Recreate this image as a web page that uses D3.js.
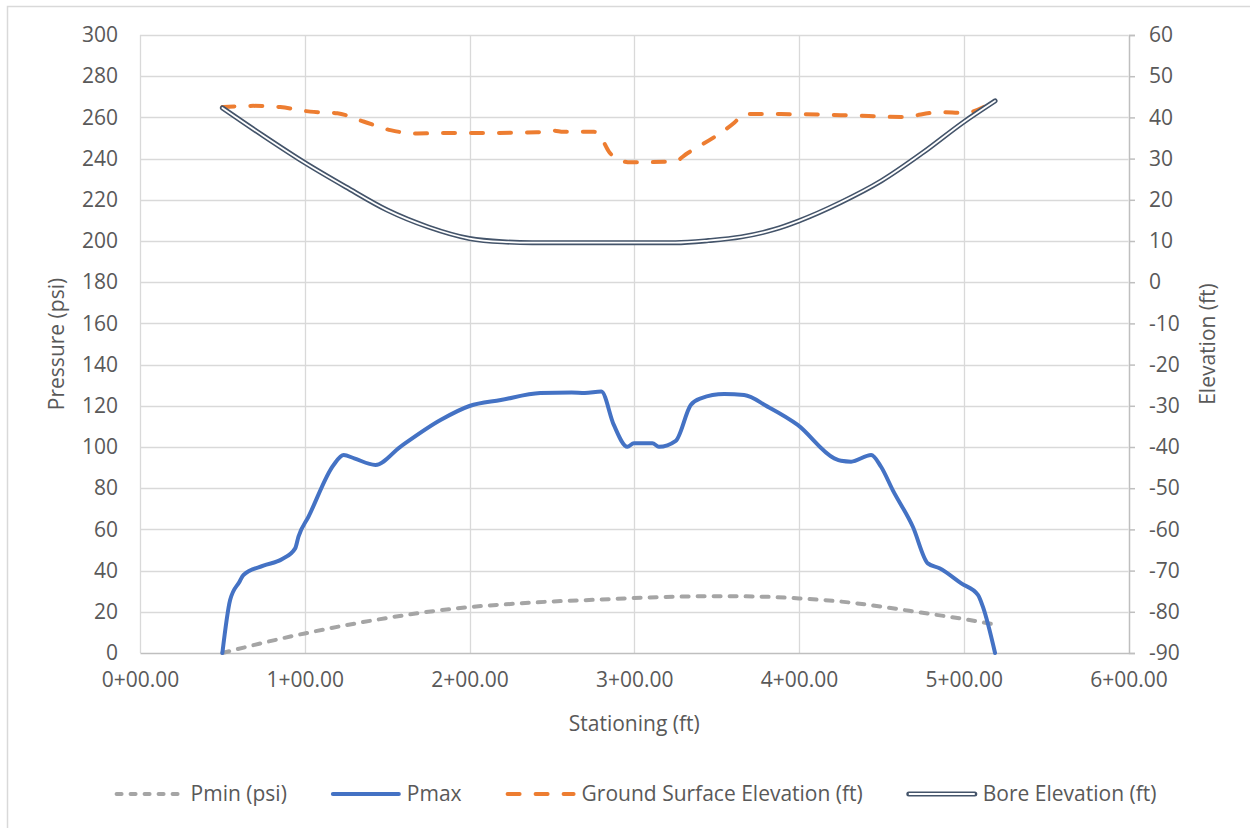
<!DOCTYPE html>
<html><head><meta charset="utf-8">
<script src="https://cdn.jsdelivr.net/npm/d3@7"></script>
<style>
body{margin:0;background:#fff;}
svg text{font-family:"Open Sans",sans-serif;fill:#595959;}
</style></head>
<body><svg id="c" width="1250" height="828"></svg>
<script>
// ---- data ----
const pressureTicks = [0,20,40,60,80,100,120,140,160,180,200,220,240,260,280,300];
const elevationTicks = [-90,-80,-70,-60,-50,-40,-30,-20,-10,0,10,20,30,40,50,60];
const stationTicks = [0,100,200,300,400,500,600];

const pminStation = [50,75,100,125,150,175,200,225,250,275,300,325,350,375,400,425,450,475,500,519];
const pminValues  = [0,5,9.5,13.5,17,20,22.3,23.8,25,25.8,26.7,27.3,27.6,27.4,26.5,25,22.5,19.5,16.5,13.8];

const pmaxStation = [50,54.7,60.4,62.8,74.9,86.1,94.2,96.2,102.3,117.5,123.6,130,142.9,158,182.4,200,219,243,262,270,280,287.6,295.8,299.8,311,315,325.2,334.3,340.4,354.6,366.7,380.9,399.2,421.4,425.5,431.6,443.8,449.8,456.9,469.1,478.2,485.3,498.5,508.6,511.6,519];
const pmaxValues  = [0,25.7,34.6,37.9,42.4,45.5,50.8,56.5,66.2,91.3,96.1,94.5,91.3,100.1,113.1,119.9,122.8,126.2,126.5,126.2,126.9,110.7,100.1,101.8,101.8,100.1,103,120.4,123.6,125.7,125.2,119.6,110.7,94.5,93.3,92.9,96.1,90.4,79.1,61.3,43.5,41.1,33.8,28.2,22.5,0];

const groundStation = [50,68.7,85.1,103.3,119.8,135.6,152,168.4,184.2,200,241,251,257,275.6,279.6,284.6,290.7,297.8,324.2,332.3,360.7,366.7,389,430,462,486,500,519];
const groundValues  = [42.5,42.8,42.5,41.4,41.0,39.0,36.9,36.1,36.2,36.2,36.4,36.8,36.5,36.5,35.3,31.7,29.7,29.1,29.3,31.3,38.7,40.8,40.8,40.5,40.1,41.3,41.1,44.0];

const boreStation = [50,75,100,125,150,175,200,220,238,325,345,365,385,400,425,450,475,500,519];
const boreValues  = [42.3,35.5,29,23.1,17.5,13.4,10.6,9.8,9.6,9.6,10.1,11.0,12.8,14.9,19.3,24.6,31.4,38.9,44.0];

const seriesNames = ["Pmin (psi)","Pmax","Ground Surface Elevation (ft)","Bore Elevation (ft)"];
const xTitle = "Stationing (ft)", yTitle = "Pressure (psi)", y2Title = "Elevation (ft)";

// ---- layout ----
const svg = d3.select("#c");
const L = 140, R = 1128.5, T = 35, B = 653;
const x = d3.scaleLinear().domain([0,600]).range([L,R]);
const y = d3.scaleLinear().domain([0,300]).range([B,T]);
const y2 = d3.scaleLinear().domain([-90,60]).range([B,T]);
const fmt = s => Math.floor(s/100) + "+" + String(s%100).padStart(2,"0") + ".00";

svg.append("rect").attr("x",7.5).attr("y",6.5).attr("width",1260).attr("height",840)
  .attr("fill","#fff").attr("stroke","#d9d9d9").attr("stroke-width",1.5);

// gridlines
const grid = svg.append("g").attr("stroke","#d9d9d9").attr("stroke-width",1.3);
pressureTicks.forEach(t => { if (t>0) grid.append("line").attr("x1",L).attr("x2",R).attr("y1",Math.round(y(t))+0.5).attr("y2",Math.round(y(t))+0.5); });
stationTicks.forEach(t => { if (t<600) grid.append("line").attr("y1",T).attr("y2",B).attr("x1",Math.round(x(t))+0.5).attr("x2",Math.round(x(t))+0.5); });

// axes
const axL = svg.append("g").attr("transform",`translate(${L},0)`)
  .call(d3.axisLeft(y).tickValues(pressureTicks).tickFormat(d => String(d)).tickSize(0).tickPadding(22));
axL.select(".domain").remove();
const axB = svg.append("g").attr("transform",`translate(0,${B})`)
  .call(d3.axisBottom(x).tickValues(stationTicks).tickFormat(fmt).tickSize(0).tickPadding(19));
axB.select(".domain").attr("stroke","#bfbfbf").attr("stroke-width",1.5);
const axR = svg.append("g").attr("transform",`translate(${R+0.5},0)`)
  .call(d3.axisRight(y2).tickValues(elevationTicks).tickFormat(d => String(d)).tickSize(6).tickPadding(14));
axR.select(".domain").attr("stroke","#bfbfbf").attr("stroke-width",1.5);
axR.selectAll(".tick line").attr("stroke","#bfbfbf").attr("stroke-width",1.5);
svg.selectAll(".tick text").attr("font-size",21).attr("fill","#595959").style("font-family","'Open Sans',sans-serif");

// titles
svg.append("text").attr("x",(L+R)/2).attr("y",731).attr("text-anchor","middle").attr("font-size",21).text(xTitle);
svg.append("text").attr("transform",`translate(64,${(T+B)/2}) rotate(-90)`).attr("text-anchor","middle").attr("font-size",21).text(yTitle);
svg.append("text").attr("transform",`translate(1215,${(T+B)/2}) rotate(-90)`).attr("text-anchor","middle").attr("font-size",21).text(y2Title);

// series
const line = (xs, ys, ys_scale) => d3.line().curve(d3.curveMonotoneX)
  .x((d,i)=>x(xs[i])).y((d,i)=>ys_scale(ys[i]))(xs);
const plot = svg.append("g");
plot.append("path").attr("d",line(groundStation,groundValues,y2)).attr("fill","none")
  .attr("stroke","#ed7d31").attr("stroke-width",4).attr("stroke-dasharray","12,16").attr("stroke-linecap","round");
plot.append("path").attr("d",line(boreStation,boreValues,y2)).attr("fill","none")
  .attr("stroke","#44546a").attr("stroke-width",5).attr("stroke-linecap","round").attr("stroke-linejoin","round");
plot.append("path").attr("d",line(boreStation,boreValues,y2)).attr("fill","none")
  .attr("stroke","#ffffff").attr("stroke-width",1.8).attr("stroke-linecap","round");
plot.append("path").attr("d",line(pminStation,pminValues,y)).attr("fill","none")
  .attr("stroke","#a5a5a5").attr("stroke-width",4).attr("stroke-dasharray","7,9").attr("stroke-linecap","round");
plot.append("path").attr("d",line(pmaxStation,pmaxValues,y)).attr("fill","none")
  .attr("stroke","#4472c4").attr("stroke-width",4).attr("stroke-linecap","round").attr("stroke-linejoin","round");

// legend
const leg = svg.append("g");
const ly = 794;
const items = [
  {name:seriesNames[0], color:"#a5a5a5", dash:"5,9", w:4},
  {name:seriesNames[1], color:"#4472c4", dash:null, w:4},
  {name:seriesNames[2], color:"#ed7d31", dash:"12,16", w:4, ground:true},
  {name:seriesNames[3], color:"#44546a", dash:null, w:5, bore:true}
];
let widths = items.map(it => {
  const t = leg.append("text").attr("font-size",21).text(it.name);
  const w = t.node().getComputedTextLength(); t.remove(); return w;
});
const sampleW = 70, gapT = 6, gapI = 44;
const total = d3.sum(widths) + items.length*(sampleW+gapT) + (items.length-1)*gapI;
let cx = 635.5 - total/2;
items.forEach((it,i) => {
  const l = leg.append("line").attr("x1",cx+2).attr("x2",cx+sampleW-2).attr("y1",ly).attr("y2",ly)
    .attr("stroke",it.color).attr("stroke-width",it.w).attr("stroke-linecap","round");
  if (it.dash) l.attr("stroke-dasharray",it.dash);
  if (it.bore) leg.append("line").attr("x1",cx+2).attr("x2",cx+sampleW-2).attr("y1",ly).attr("y2",ly)
    .attr("stroke","#fff").attr("stroke-width",1.8);
  leg.append("text").attr("x",cx+sampleW+gapT).attr("y",ly).attr("dy","0.35em").attr("font-size",21).text(it.name);
  cx += sampleW + gapT + widths[i] + gapI;
});
</script></body></html>
